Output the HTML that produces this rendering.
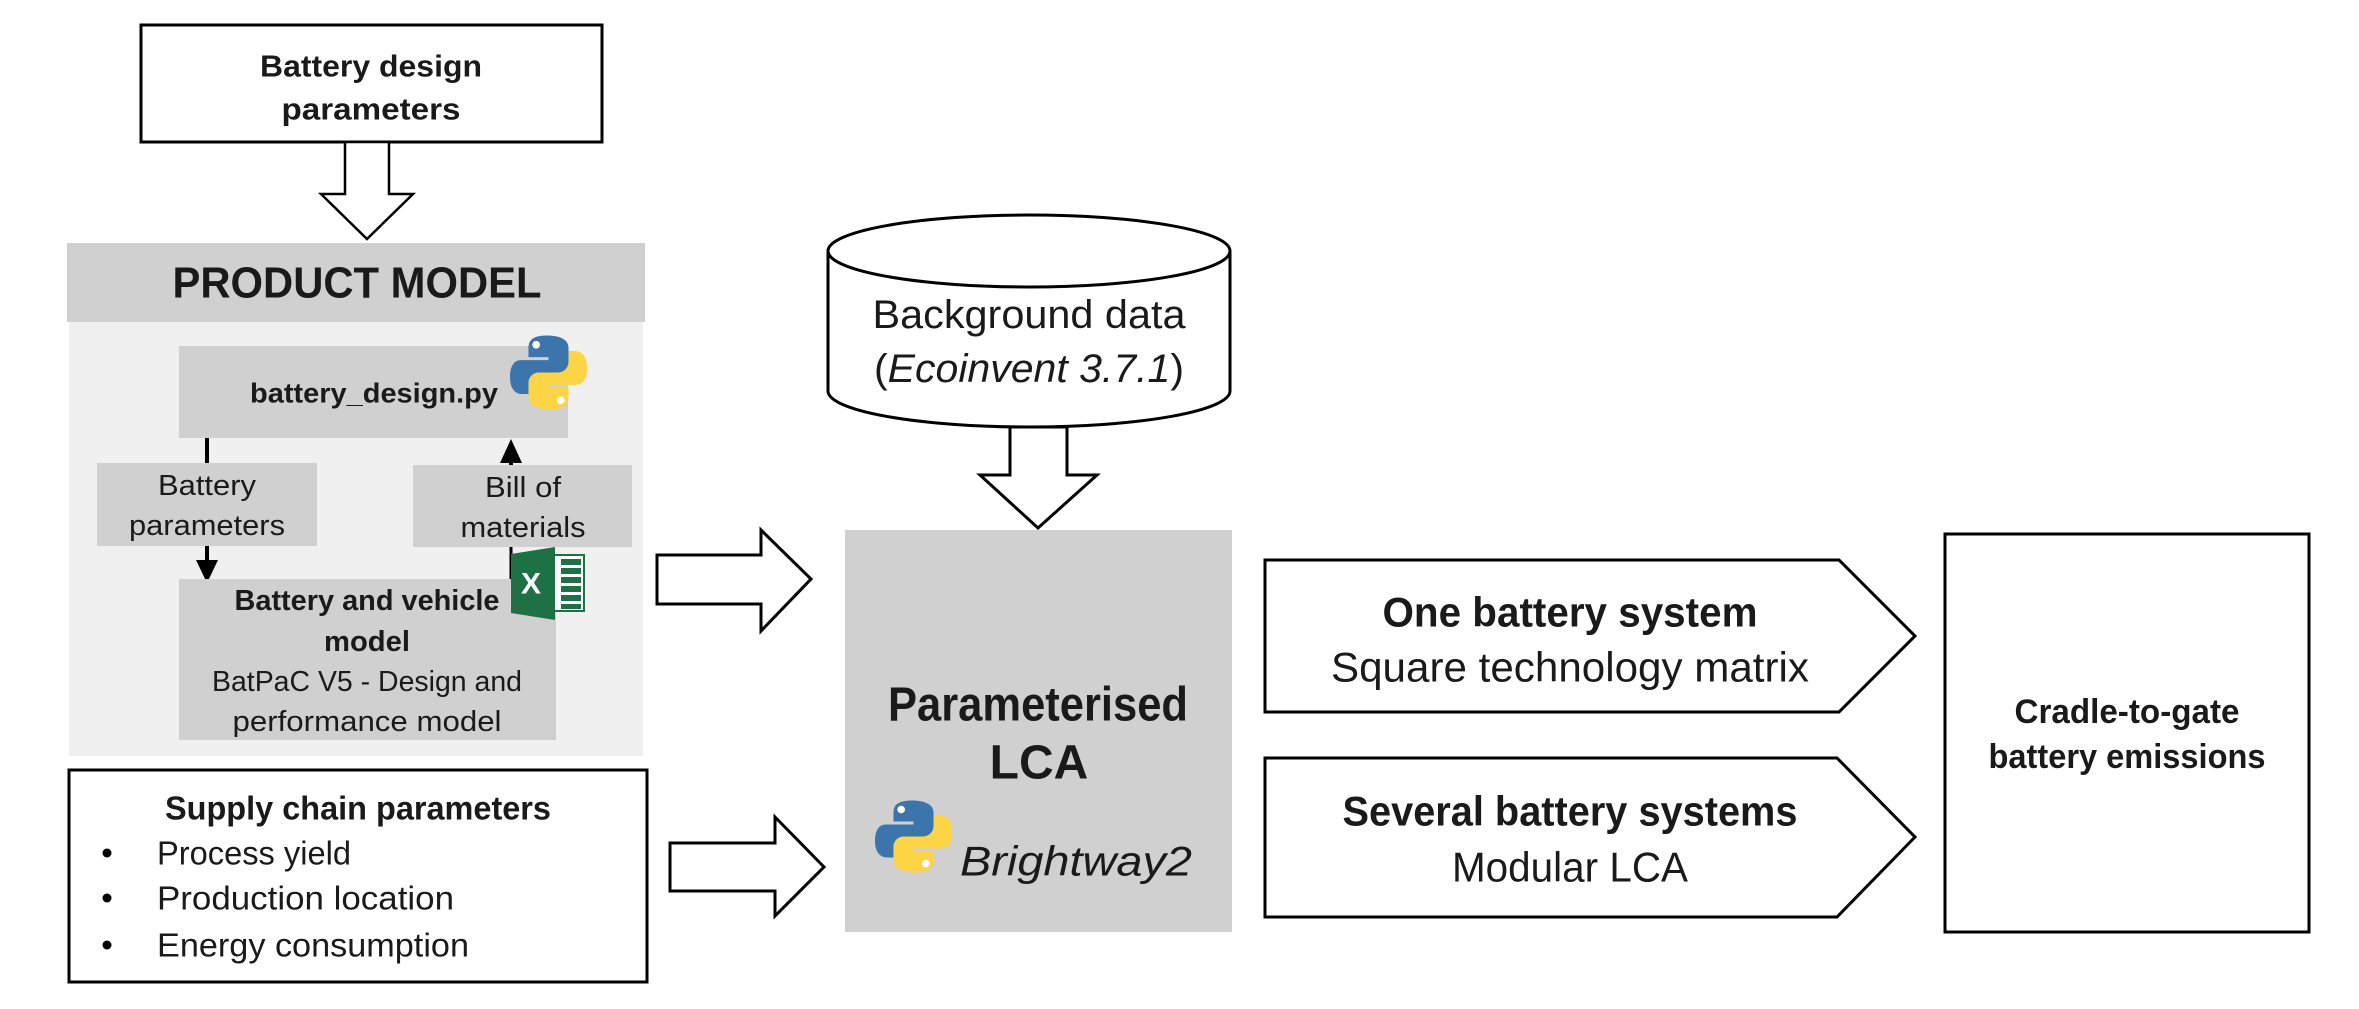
<!DOCTYPE html>
<html><head><meta charset="utf-8"><style>
html,body{margin:0;padding:0;background:#fff;}
svg{display:block;}
text{font-family:"Liberation Sans",sans-serif;fill:#1a1a1a;}
</style></head><body>
<svg width="2359" height="1009" viewBox="0 0 2359 1009" xmlns="http://www.w3.org/2000/svg">
<defs>
<g id="py">
<path d="M48 2 C30 2 24 8 24 18 L24 30 L50 30 L50 34 L14 34 C4 34 0 44 0 56 C0 70 6 78 16 78 L24 78 L24 64 C24 56 30 50 38 50 L62 50 C70 50 76 44 76 36 L76 18 C76 8 66 2 48 2 Z" fill="#3c75ab"/>
<path d="M52 98 C70 98 76 92 76 82 L76 70 L50 70 L50 66 L86 66 C96 66 100 56 100 44 C100 30 94 22 84 22 L76 22 L76 36 C76 44 70 50 62 50 L38 50 C30 50 24 56 24 64 L24 82 C24 92 34 98 52 98 Z" fill="#fdd445"/>
<circle cx="34" cy="14" r="5" fill="#fff"/>
<circle cx="66" cy="86" r="5" fill="#fff"/>
</g>
</defs>

<!-- Battery design parameters -->
<rect x="141" y="25" width="461" height="117" fill="#fff" stroke="#000" stroke-width="3"/>
<text x="371" y="66" font-size="31" font-weight="bold" text-anchor="middle" dominant-baseline="central" textLength="222" lengthAdjust="spacingAndGlyphs">Battery design</text>
<text x="371" y="109" font-size="31" font-weight="bold" text-anchor="middle" dominant-baseline="central" textLength="179" lengthAdjust="spacingAndGlyphs">parameters</text>
<polygon points="345,142 389,142 389,194 413,194 367,239 321,194 345,194" fill="#fff" stroke="#000" stroke-width="2.5"/>

<!-- Product model -->
<rect x="69" y="322" width="574" height="434" fill="#f0f0f0"/>
<rect x="67" y="243" width="578" height="79" fill="#d0d0d0"/>
<text x="357" y="283" font-size="44" font-weight="bold" text-anchor="middle" dominant-baseline="central" textLength="369" lengthAdjust="spacingAndGlyphs">PRODUCT MODEL</text>

<rect x="179" y="346" width="389" height="92" fill="#d0d0d0"/>
<text x="374" y="393" font-size="28" font-weight="bold" text-anchor="middle" dominant-baseline="central" textLength="248" lengthAdjust="spacingAndGlyphs">battery_design.py</text>
<use href="#py" transform="translate(510,334) scale(0.77,0.77)"/>

<rect x="97" y="463" width="220" height="83" fill="#d0d0d0"/>
<text x="207" y="486" font-size="29" text-anchor="middle" dominant-baseline="central" textLength="98" lengthAdjust="spacingAndGlyphs">Battery</text>
<text x="207" y="526" font-size="29" text-anchor="middle" dominant-baseline="central" textLength="156" lengthAdjust="spacingAndGlyphs">parameters</text>

<rect x="413" y="465" width="219" height="82" fill="#d0d0d0"/>
<text x="523" y="488" font-size="29" text-anchor="middle" dominant-baseline="central" textLength="76" lengthAdjust="spacingAndGlyphs">Bill of</text>
<text x="523" y="528" font-size="29" text-anchor="middle" dominant-baseline="central" textLength="125" lengthAdjust="spacingAndGlyphs">materials</text>

<line x1="207" y1="438" x2="207" y2="463" stroke="#000" stroke-width="4"/>
<line x1="207" y1="546" x2="207" y2="562" stroke="#000" stroke-width="4"/>
<polygon points="196,560 218,560 207,583" fill="#000"/>
<line x1="511" y1="465" x2="511" y2="455" stroke="#000" stroke-width="4"/>
<polygon points="500,463 522,463 511,439" fill="#000"/>
<line x1="511" y1="547" x2="511" y2="582" stroke="#000" stroke-width="3"/>

<rect x="179" y="579" width="377" height="161" fill="#d0d0d0"/>
<text x="367" y="601" font-size="29" font-weight="bold" text-anchor="middle" dominant-baseline="central" textLength="265" lengthAdjust="spacingAndGlyphs">Battery and vehicle</text>
<text x="367" y="642" font-size="29" font-weight="bold" text-anchor="middle" dominant-baseline="central" textLength="86" lengthAdjust="spacingAndGlyphs">model</text>
<text x="367" y="682" font-size="29" text-anchor="middle" dominant-baseline="central" textLength="310" lengthAdjust="spacingAndGlyphs">BatPaC V5 - Design and</text>
<text x="367" y="722" font-size="29" text-anchor="middle" dominant-baseline="central" textLength="269" lengthAdjust="spacingAndGlyphs">performance model</text>

<!-- Excel icon -->
<rect x="553" y="555" width="31" height="56" fill="#fff"/>
<g fill="#1e7145">
<rect x="561" y="559" width="20" height="6"/><rect x="561" y="568" width="20" height="6"/><rect x="561" y="577" width="20" height="6"/><rect x="561" y="586" width="20" height="6"/><rect x="561" y="595" width="20" height="6"/><rect x="561" y="604" width="20" height="5"/>
</g>
<rect x="553" y="555" width="31" height="56" fill="none" stroke="#1e7145" stroke-width="2"/>
<polygon points="511,554 555,547 555,620 511,613" fill="#1e7145"/>
<text x="531" y="584" font-size="30" font-weight="bold" text-anchor="middle" dominant-baseline="central" style="fill:#fff">X</text>

<!-- Supply chain -->
<rect x="69" y="770" width="578" height="212" fill="#fff" stroke="#000" stroke-width="3"/>
<text x="358" y="808" font-size="33" font-weight="bold" text-anchor="middle" dominant-baseline="central" textLength="386" lengthAdjust="spacingAndGlyphs">Supply chain parameters</text>
<circle cx="107" cy="853" r="4.5" fill="#000"/>
<circle cx="107" cy="898" r="4.5" fill="#000"/>
<circle cx="107" cy="945" r="4.5" fill="#000"/>
<text x="157" y="853" font-size="33" dominant-baseline="central" textLength="194" lengthAdjust="spacingAndGlyphs">Process yield</text>
<text x="157" y="898" font-size="33" dominant-baseline="central" textLength="297" lengthAdjust="spacingAndGlyphs">Production location</text>
<text x="157" y="945" font-size="33" dominant-baseline="central" textLength="312" lengthAdjust="spacingAndGlyphs">Energy consumption</text>

<!-- Right arrows -->
<polygon points="657,555 761,555 761,530 811,579 761,631 761,604 657,604" fill="#fff" stroke="#000" stroke-width="3"/>
<polygon points="670,843 775,843 775,817 824,867 775,916 775,891 670,891" fill="#fff" stroke="#000" stroke-width="3"/>

<!-- Cylinder -->
<path d="M828,251 L828,391 A201,36 0 0 0 1230,391 L1230,251" fill="#fff" stroke="#000" stroke-width="3"/>
<ellipse cx="1029" cy="251" rx="201" ry="36" fill="#fff" stroke="#000" stroke-width="3"/>
<text x="1029" y="315" font-size="40" text-anchor="middle" dominant-baseline="central" textLength="313" lengthAdjust="spacingAndGlyphs">Background data</text>
<text x="1029" y="369" font-size="40" text-anchor="middle" dominant-baseline="central" textLength="310" lengthAdjust="spacingAndGlyphs">(<tspan font-style="italic">Ecoinvent 3.7.1</tspan>)</text>
<polygon points="1010,427 1067,427 1067,475 1097,475 1038,528 980,475 1010,475" fill="#fff" stroke="#000" stroke-width="3"/>

<!-- LCA box -->
<rect x="845" y="530" width="387" height="402" fill="#d0d0d0"/>
<text x="1038" y="705" font-size="48" font-weight="bold" text-anchor="middle" dominant-baseline="central" textLength="300" lengthAdjust="spacingAndGlyphs">Parameterised</text>
<text x="1039" y="763" font-size="48" font-weight="bold" text-anchor="middle" dominant-baseline="central">LCA</text>
<use href="#py" transform="translate(875,799) scale(0.77,0.75)"/>
<text x="960" y="861" font-size="42" font-style="italic" dominant-baseline="central" textLength="232" lengthAdjust="spacingAndGlyphs">Brightway2</text>

<!-- Chevrons -->
<polygon points="1265,560 1839,560 1915,636 1839,712 1265,712" fill="#fff" stroke="#000" stroke-width="3"/>
<text x="1570" y="612" font-size="42" font-weight="bold" text-anchor="middle" dominant-baseline="central" textLength="375" lengthAdjust="spacingAndGlyphs">One battery system</text>
<text x="1570" y="667" font-size="42" text-anchor="middle" dominant-baseline="central" textLength="478" lengthAdjust="spacingAndGlyphs">Square technology matrix</text>

<polygon points="1265,758 1837,758 1915,837 1837,917 1265,917" fill="#fff" stroke="#000" stroke-width="3"/>
<text x="1570" y="811" font-size="42" font-weight="bold" text-anchor="middle" dominant-baseline="central" textLength="455" lengthAdjust="spacingAndGlyphs">Several battery systems</text>
<text x="1570" y="867" font-size="42" text-anchor="middle" dominant-baseline="central" textLength="236" lengthAdjust="spacingAndGlyphs">Modular LCA</text>

<!-- Cradle box -->
<rect x="1945" y="534" width="364" height="398" fill="#fff" stroke="#000" stroke-width="3"/>
<text x="2127" y="712" font-size="34" font-weight="bold" text-anchor="middle" dominant-baseline="central" textLength="225" lengthAdjust="spacingAndGlyphs">Cradle-to-gate</text>
<text x="2127" y="757" font-size="34" font-weight="bold" text-anchor="middle" dominant-baseline="central" textLength="277" lengthAdjust="spacingAndGlyphs">battery emissions</text>
</svg>
</body></html>
